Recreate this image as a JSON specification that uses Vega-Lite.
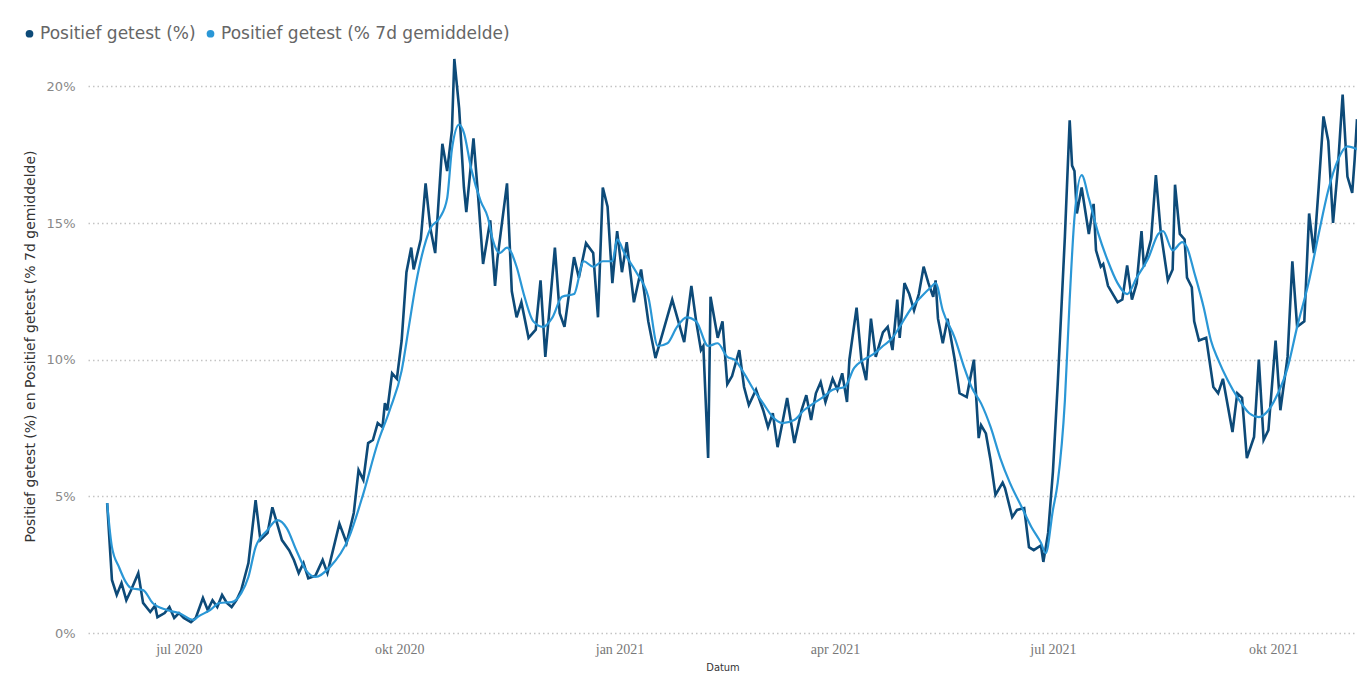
{
  "$schema": "https://vega.github.io/schema/vega-lite/v6.json",
  "autosize": "none",
  "width": 1269,
  "height": 574,
  "padding": {"left": 88, "top": 59, "right": 0, "bottom": 50},
  "background": "white",
  "config": {
    "font": "DejaVu Sans",
    "view": {"stroke": null},
    "axis": {"domain": false, "ticks": false}
  },
  "datasets": {
    "raw": [
      {"d":"2020-06-01","v":4.75},{"d":"2020-06-03","v":1.94},{"d":"2020-06-05","v":1.39},{"d":"2020-06-07","v":1.83},{"d":"2020-06-09","v":1.2},{"d":"2020-06-11","v":1.57},{"d":"2020-06-14","v":2.19},{"d":"2020-06-16","v":1.1},{"d":"2020-06-19","v":0.77},{"d":"2020-06-21","v":1.0},{"d":"2020-06-22","v":0.58},{"d":"2020-06-25","v":0.73},{"d":"2020-06-27","v":0.95},{"d":"2020-06-29","v":0.55},
      {"d":"2020-07-01","v":0.73},{"d":"2020-07-03","v":0.55},{"d":"2020-07-06","v":0.4},{"d":"2020-07-08","v":0.55},{"d":"2020-07-11","v":1.28},{"d":"2020-07-13","v":0.84},{"d":"2020-07-15","v":1.2},{"d":"2020-07-17","v":0.95},{"d":"2020-07-19","v":1.39},{"d":"2020-07-21","v":1.1},{"d":"2020-07-23","v":0.95},{"d":"2020-07-25","v":1.2},{"d":"2020-07-27","v":1.57},{"d":"2020-07-30","v":2.56},
      {"d":"2020-08-02","v":4.86},{"d":"2020-08-04","v":3.4},{"d":"2020-08-07","v":3.66},{"d":"2020-08-09","v":4.6},{"d":"2020-08-11","v":4.0},{"d":"2020-08-13","v":3.4},{"d":"2020-08-16","v":3.03},{"d":"2020-08-18","v":2.67},{"d":"2020-08-20","v":2.19},{"d":"2020-08-22","v":2.56},{"d":"2020-08-24","v":2.0},{"d":"2020-08-27","v":2.1},{"d":"2020-08-30","v":2.67},
      {"d":"2020-09-01","v":2.19},{"d":"2020-09-06","v":4.0},{"d":"2020-09-09","v":3.29},{"d":"2020-09-12","v":4.39},{"d":"2020-09-14","v":5.96},{"d":"2020-09-16","v":5.6},{"d":"2020-09-18","v":6.95},{"d":"2020-09-20","v":7.06},{"d":"2020-09-22","v":7.68},{"d":"2020-09-24","v":7.53},{"d":"2020-09-25","v":8.41},{"d":"2020-09-26","v":8.15},{"d":"2020-09-28","v":9.5},{"d":"2020-09-30","v":9.3},
      {"d":"2020-10-02","v":10.7},{"d":"2020-10-04","v":13.2},{"d":"2020-10-06","v":14.1},{"d":"2020-10-07","v":13.3},{"d":"2020-10-10","v":14.4},{"d":"2020-10-12","v":16.45},{"d":"2020-10-14","v":14.8},{"d":"2020-10-16","v":13.9},{"d":"2020-10-19","v":17.9},{"d":"2020-10-21","v":16.9},{"d":"2020-10-23","v":18.4},{"d":"2020-10-24","v":21.0},{"d":"2020-10-26","v":19.2},{"d":"2020-10-28","v":16.3},{"d":"2020-10-29","v":15.4},
      {"d":"2020-11-01","v":18.1},{"d":"2020-11-03","v":15.9},{"d":"2020-11-05","v":13.5},{"d":"2020-11-08","v":15.1},{"d":"2020-11-10","v":12.7},{"d":"2020-11-11","v":13.7},{"d":"2020-11-15","v":16.45},{"d":"2020-11-17","v":12.5},{"d":"2020-11-19","v":11.55},{"d":"2020-11-21","v":12.1},{"d":"2020-11-24","v":10.8},{"d":"2020-11-27","v":11.1},{"d":"2020-11-29","v":12.9},
      {"d":"2020-12-01","v":10.1},{"d":"2020-12-05","v":14.1},{"d":"2020-12-07","v":11.7},{"d":"2020-12-09","v":11.2},{"d":"2020-12-13","v":13.75},{"d":"2020-12-15","v":13.0},{"d":"2020-12-18","v":14.26},{"d":"2020-12-21","v":13.9},{"d":"2020-12-23","v":11.55},{"d":"2020-12-25","v":16.3},{"d":"2020-12-27","v":15.6},{"d":"2020-12-29","v":12.8},{"d":"2020-12-31","v":14.7},
      {"d":"2021-01-02","v":13.2},{"d":"2021-01-04","v":14.3},{"d":"2021-01-07","v":12.1},{"d":"2021-01-10","v":13.3},{"d":"2021-01-13","v":11.4},{"d":"2021-01-16","v":10.06},{"d":"2021-01-19","v":10.97},{"d":"2021-01-23","v":12.2},{"d":"2021-01-28","v":10.64},{"d":"2021-01-31","v":12.7},
      {"d":"2021-02-02","v":11.4},{"d":"2021-02-04","v":10.35},{"d":"2021-02-05","v":10.5},{"d":"2021-02-07","v":6.4},{"d":"2021-02-08","v":12.3},{"d":"2021-02-11","v":10.8},{"d":"2021-02-13","v":11.4},{"d":"2021-02-15","v":9.1},{"d":"2021-02-17","v":9.4},{"d":"2021-02-20","v":10.35},{"d":"2021-02-22","v":9.0},{"d":"2021-02-24","v":8.34},{"d":"2021-02-27","v":8.9},
      {"d":"2021-03-02","v":8.15},{"d":"2021-03-04","v":7.53},{"d":"2021-03-06","v":8.04},{"d":"2021-03-08","v":6.8},{"d":"2021-03-10","v":7.68},{"d":"2021-03-12","v":8.6},{"d":"2021-03-14","v":7.5},{"d":"2021-03-15","v":6.95},{"d":"2021-03-18","v":8.15},{"d":"2021-03-20","v":8.7},{"d":"2021-03-22","v":7.79},{"d":"2021-03-24","v":8.77},{"d":"2021-03-26","v":9.18},{"d":"2021-03-28","v":8.45},{"d":"2021-03-31","v":9.3},
      {"d":"2021-04-02","v":8.9},{"d":"2021-04-04","v":9.5},{"d":"2021-04-06","v":8.45},{"d":"2021-04-07","v":10.0},{"d":"2021-04-10","v":11.9},{"d":"2021-04-12","v":10.0},{"d":"2021-04-14","v":9.25},{"d":"2021-04-16","v":11.5},{"d":"2021-04-18","v":10.1},{"d":"2021-04-21","v":11.0},{"d":"2021-04-23","v":11.2},{"d":"2021-04-25","v":10.35},{"d":"2021-04-27","v":12.2},{"d":"2021-04-28","v":10.8},{"d":"2021-04-30","v":12.8},
      {"d":"2021-05-02","v":12.4},{"d":"2021-05-04","v":11.8},{"d":"2021-05-06","v":12.4},{"d":"2021-05-08","v":13.4},{"d":"2021-05-10","v":12.8},{"d":"2021-05-12","v":12.3},{"d":"2021-05-13","v":12.9},{"d":"2021-05-14","v":11.5},{"d":"2021-05-16","v":10.6},{"d":"2021-05-18","v":11.5},{"d":"2021-05-21","v":10.0},{"d":"2021-05-23","v":8.77},{"d":"2021-05-26","v":8.63},{"d":"2021-05-27","v":9.1},{"d":"2021-05-29","v":10.0},{"d":"2021-05-31","v":7.13},
      {"d":"2021-06-01","v":7.6},{"d":"2021-06-03","v":7.3},{"d":"2021-06-05","v":6.3},{"d":"2021-06-07","v":5.05},{"d":"2021-06-10","v":5.5},{"d":"2021-06-11","v":5.3},{"d":"2021-06-14","v":4.24},{"d":"2021-06-16","v":4.5},{"d":"2021-06-19","v":4.57},{"d":"2021-06-21","v":3.14},{"d":"2021-06-23","v":3.03},{"d":"2021-06-26","v":3.2},{"d":"2021-06-27","v":2.6},{"d":"2021-06-29","v":3.66},
      {"d":"2021-07-01","v":5.9},{"d":"2021-07-03","v":9.1},{"d":"2021-07-06","v":14.5},{"d":"2021-07-08","v":18.76},{"d":"2021-07-09","v":17.1},{"d":"2021-07-10","v":16.9},{"d":"2021-07-11","v":15.35},{"d":"2021-07-13","v":16.3},{"d":"2021-07-16","v":14.6},{"d":"2021-07-18","v":15.7},{"d":"2021-07-19","v":14.0},{"d":"2021-07-21","v":13.4},{"d":"2021-07-22","v":13.5},{"d":"2021-07-24","v":12.7},{"d":"2021-07-28","v":12.1},{"d":"2021-07-30","v":12.2},
      {"d":"2021-08-01","v":13.45},{"d":"2021-08-03","v":12.2},{"d":"2021-08-05","v":12.8},{"d":"2021-08-07","v":14.7},{"d":"2021-08-08","v":13.4},{"d":"2021-08-11","v":14.4},{"d":"2021-08-13","v":16.75},{"d":"2021-08-15","v":14.7},{"d":"2021-08-18","v":12.9},{"d":"2021-08-20","v":13.3},{"d":"2021-08-21","v":16.4},{"d":"2021-08-23","v":14.6},{"d":"2021-08-25","v":14.4},{"d":"2021-08-26","v":13.0},{"d":"2021-08-28","v":12.65},{"d":"2021-08-29","v":11.4},{"d":"2021-08-31","v":10.7},
      {"d":"2021-09-03","v":10.8},{"d":"2021-09-06","v":9.0},{"d":"2021-09-08","v":8.77},{"d":"2021-09-10","v":9.3},{"d":"2021-09-14","v":7.35},{"d":"2021-09-16","v":8.77},{"d":"2021-09-18","v":8.6},{"d":"2021-09-20","v":6.4},{"d":"2021-09-23","v":7.17},{"d":"2021-09-25","v":10.0},{"d":"2021-09-27","v":7.06},{"d":"2021-09-29","v":7.42},
      {"d":"2021-10-02","v":10.7},{"d":"2021-10-04","v":8.15},{"d":"2021-10-07","v":10.1},{"d":"2021-10-09","v":13.6},{"d":"2021-10-11","v":11.2},{"d":"2021-10-14","v":11.4},{"d":"2021-10-16","v":15.35},{"d":"2021-10-18","v":13.9},{"d":"2021-10-20","v":16.3},{"d":"2021-10-22","v":18.9},{"d":"2021-10-24","v":18.0},{"d":"2021-10-26","v":15.0},{"d":"2021-10-28","v":17.0},{"d":"2021-10-30","v":19.7},
      {"d":"2021-11-01","v":16.7},{"d":"2021-11-03","v":16.1},{"d":"2021-11-04","v":17.3},{"d":"2021-11-05","v":18.8}
    ],
    "avg": [
      {"d":"2020-06-01","v":4.75},{"d":"2020-06-03","v":3.14},{"d":"2020-06-06","v":2.4},{"d":"2020-06-09","v":1.83},{"d":"2020-06-11","v":1.64},{"d":"2020-06-16","v":1.57},{"d":"2020-06-20","v":1.1},{"d":"2020-06-26","v":0.84},
      {"d":"2020-07-01","v":0.73},{"d":"2020-07-07","v":0.48},{"d":"2020-07-09","v":0.6},{"d":"2020-07-14","v":0.84},{"d":"2020-07-18","v":1.1},{"d":"2020-07-23","v":1.13},{"d":"2020-07-27","v":1.46},{"d":"2020-07-30","v":2.05},
      {"d":"2020-08-02","v":3.14},{"d":"2020-08-07","v":3.77},{"d":"2020-08-11","v":4.13},{"d":"2020-08-15","v":3.84},{"d":"2020-08-19","v":3.03},{"d":"2020-08-23","v":2.3},{"d":"2020-08-27","v":2.05},
      {"d":"2020-09-02","v":2.41},{"d":"2020-09-10","v":3.5},{"d":"2020-09-16","v":5.1},{"d":"2020-09-22","v":6.95},{"d":"2020-09-27","v":8.15},
      {"d":"2020-10-02","v":9.6},{"d":"2020-10-05","v":11.2},{"d":"2020-10-08","v":12.8},{"d":"2020-10-14","v":14.8},{"d":"2020-10-18","v":15.2},{"d":"2020-10-21","v":15.9},{"d":"2020-10-23","v":17.7},{"d":"2020-10-26","v":18.6},{"d":"2020-10-28","v":18.3},{"d":"2020-10-31","v":17.0},
      {"d":"2020-11-04","v":15.8},{"d":"2020-11-07","v":15.2},{"d":"2020-11-09","v":14.4},{"d":"2020-11-12","v":13.9},{"d":"2020-11-15","v":14.1},{"d":"2020-11-19","v":13.4},{"d":"2020-11-22","v":12.4},{"d":"2020-11-26","v":11.4},{"d":"2020-11-30","v":11.2},
      {"d":"2020-12-04","v":11.55},{"d":"2020-12-08","v":12.3},{"d":"2020-12-13","v":12.4},{"d":"2020-12-17","v":13.6},{"d":"2020-12-21","v":13.4},{"d":"2020-12-25","v":13.6},{"d":"2020-12-29","v":13.6},{"d":"2020-12-31","v":14.4},
      {"d":"2021-01-03","v":13.9},{"d":"2021-01-08","v":13.2},{"d":"2021-01-13","v":12.3},{"d":"2021-01-17","v":10.5},{"d":"2021-01-21","v":10.6},{"d":"2021-01-25","v":11.2},{"d":"2021-01-29","v":11.55},
      {"d":"2021-02-02","v":11.4},{"d":"2021-02-07","v":10.5},{"d":"2021-02-11","v":10.6},{"d":"2021-02-15","v":10.1},{"d":"2021-02-18","v":10.0},{"d":"2021-02-22","v":9.5},{"d":"2021-02-26","v":8.9},
      {"d":"2021-03-02","v":8.4},{"d":"2021-03-06","v":7.9},{"d":"2021-03-10","v":7.68},{"d":"2021-03-15","v":7.79},{"d":"2021-03-19","v":8.15},{"d":"2021-03-23","v":8.4},{"d":"2021-03-27","v":8.63},{"d":"2021-03-31","v":8.9},
      {"d":"2021-04-05","v":9.0},{"d":"2021-04-09","v":9.7},{"d":"2021-04-13","v":10.0},{"d":"2021-04-17","v":10.2},{"d":"2021-04-21","v":10.5},{"d":"2021-04-25","v":10.8},{"d":"2021-04-28","v":11.2},
      {"d":"2021-05-03","v":11.9},{"d":"2021-05-07","v":12.3},{"d":"2021-05-11","v":12.65},{"d":"2021-05-13","v":12.8},{"d":"2021-05-16","v":11.8},{"d":"2021-05-21","v":10.8},{"d":"2021-05-25","v":9.7},{"d":"2021-05-28","v":9.0},
      {"d":"2021-06-01","v":8.4},{"d":"2021-06-05","v":7.53},{"d":"2021-06-09","v":6.4},{"d":"2021-06-13","v":5.5},{"d":"2021-06-18","v":4.6},{"d":"2021-06-22","v":3.88},{"d":"2021-06-26","v":3.3},{"d":"2021-06-28","v":2.92},
      {"d":"2021-07-01","v":4.5},{"d":"2021-07-03","v":5.5},{"d":"2021-07-06","v":8.5},{"d":"2021-07-08","v":12.2},{"d":"2021-07-10","v":15.2},{"d":"2021-07-13","v":16.75},{"d":"2021-07-16","v":15.9},{"d":"2021-07-20","v":14.6},{"d":"2021-07-24","v":13.6},{"d":"2021-07-28","v":12.8},
      {"d":"2021-08-01","v":12.4},{"d":"2021-08-05","v":13.0},{"d":"2021-08-10","v":13.75},{"d":"2021-08-14","v":14.6},{"d":"2021-08-16","v":14.7},{"d":"2021-08-20","v":14.0},{"d":"2021-08-24","v":14.3},{"d":"2021-08-26","v":14.1},{"d":"2021-08-29","v":13.2},
      {"d":"2021-09-02","v":11.9},{"d":"2021-09-05","v":10.7},{"d":"2021-09-08","v":10.0},{"d":"2021-09-12","v":9.25},{"d":"2021-09-16","v":8.63},{"d":"2021-09-21","v":8.04},{"d":"2021-09-25","v":7.9},{"d":"2021-09-29","v":8.15},
      {"d":"2021-10-03","v":8.77},{"d":"2021-10-07","v":9.7},{"d":"2021-10-11","v":11.2},{"d":"2021-10-16","v":12.9},{"d":"2021-10-20","v":14.6},{"d":"2021-10-24","v":16.2},{"d":"2021-10-28","v":17.3},
      {"d":"2021-11-01","v":17.8},{"d":"2021-11-05","v":17.7}
    ]
  },
  "encoding": {
    "x": {
      "field": "d",
      "type": "temporal",
      "title": "Datum",
      "scale": {
        "type": "utc",
        "domain": [
          {"year": 2020, "month": 5, "date": 24, "utc": true},
          {"year": 2021, "month": 11, "date": 5, "utc": true}
        ]
      },
      "axis": {
        "values": [
          {"year": 2020, "month": 7, "date": 1, "utc": true},
          {"year": 2020, "month": 10, "date": 1, "utc": true},
          {"year": 2021, "month": 1, "date": 1, "utc": true},
          {"year": 2021, "month": 4, "date": 1, "utc": true},
          {"year": 2021, "month": 7, "date": 1, "utc": true},
          {"year": 2021, "month": 10, "date": 1, "utc": true}
        ],
        "labelExpr": "['jan','feb','mrt','apr','mei','jun','jul','aug','sep','okt','nov','dec'][utcmonth(datum.value)] + ' ' + utcyear(datum.value)",
        "grid": false,
        "labelFont": "Liberation Sans Narrow",
        "labelFontSize": 14,
        "labelColor": "#777777",
        "labelPadding": 9,
        "titleFont": "DejaVu Sans Condensed",
        "titleFontSize": 11,
        "titleFontWeight": "normal",
        "titleColor": "#333333",
        "titlePadding": 5
      }
    },
    "y": {
      "field": "v",
      "type": "quantitative",
      "title": "Positief getest (%) en Positief getest (% 7d gemiddelde)",
      "scale": {"domain": [0, 21], "nice": false},
      "axis": {
        "values": [0, 5, 10, 15, 20],
        "labelExpr": "datum.value + '%'",
        "labelFont": "DejaVu Sans",
        "labelFontSize": 13,
        "labelColor": "#888888",
        "labelPadding": 13,
        "grid": true,
        "gridColor": "#c4c4c4",
        "gridDash": [1.5, 3],
        "gridWidth": 1.3,
        "titleFont": "DejaVu Sans",
        "titleFontSize": 14,
        "titleFontWeight": "normal",
        "titleColor": "#333333",
        "titleAngle": -90,
        "titleX": -58,
        "titleY": 287,
        "titleAlign": "center",
        "titleBaseline": "middle"
      }
    },
    "color": {
      "scale": {
        "domain": ["Positief getest (%)", "Positief getest (% 7d gemiddelde)"],
        "range": ["#0d4a78", "#2a97d6"]
      },
      "legend": {
        "title": null,
        "orient": "none",
        "direction": "horizontal",
        "legendX": -67,
        "legendY": -34,
        "symbolType": "circle",
        "symbolSize": 60,
        "labelFont": "DejaVu Sans",
        "labelFontSize": 17,
        "labelColor": "#666666",
        "labelOffset": 2,
        "labelLimit": 0,
        "columnPadding": 6,
        "encode": {
          "symbols": {
            "update": {
              "fill": {"scale": "color", "field": "value"},
              "fillOpacity": {"value": 1},
              "strokeWidth": {"value": 0}
            }
          }
        }
      }
    }
  },
  "layer": [
    {
      "data": {"name": "raw"},
      "mark": {"type": "line", "strokeWidth": 2.6, "interpolate": "linear"},
      "encoding": {"color": {"datum": "Positief getest (%)"}}
    },
    {
      "data": {"name": "avg"},
      "mark": {"type": "line", "strokeWidth": 2.2, "interpolate": "monotone"},
      "encoding": {"color": {"datum": "Positief getest (% 7d gemiddelde)"}}
    }
  ]
}
